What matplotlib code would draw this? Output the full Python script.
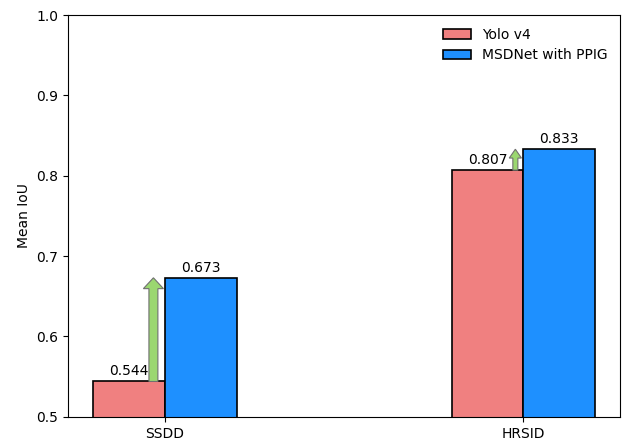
import matplotlib
matplotlib.use('Agg')
import matplotlib.pyplot as plt
import numpy as np

datasets = ['SSDD', 'HRSID']
yolo = [0.544, 0.807]
msdnet = [0.673, 0.833]
series_names = ['Yolo v4', 'MSDNet with PPIG']

fig = plt.figure(figsize=(6.25, 4.42), dpi=100)
ax = fig.add_axes([0.109, 0.057, 0.883, 0.909])

x = np.arange(len(datasets))
bar_width = 0.2

ax.bar(x - bar_width / 2, yolo, width=bar_width, color='#F08080',
       edgecolor='black', linewidth=1.2, label=series_names[0])
ax.bar(x + bar_width / 2, msdnet, width=bar_width, color='#1E90FF',
       edgecolor='black', linewidth=1.2, label=series_names[1])

# value labels
for xi, v in zip(x - bar_width / 2, yolo):
    ax.text(xi, v + 0.004, f'{v:.3f}', ha='center', va='bottom', fontsize=10)
for xi, v in zip(x + bar_width / 2, msdnet):
    ax.text(xi, v + 0.004, f'{v:.3f}', ha='center', va='bottom', fontsize=10)

# improvement arrows (the HRSID one is drawn smaller)
arrow_style = [(-0.032, 0.025, 0.056, 0.0135), (-0.022, 0.014, 0.034, 0.011)]
for xi, lo, hi, (dx, w, hw, hl) in zip(x, yolo, msdnet, arrow_style):
    ax.arrow(xi + dx, lo, 0, hi - lo, width=w, head_width=hw,
             head_length=hl, length_includes_head=True,
             facecolor='#9BD770', edgecolor='#707070', linewidth=0.8, zorder=3)

ax.set_ylim(0.5, 1.0)
ax.set_xticks(x)
ax.set_xticklabels(datasets)
ax.set_ylabel('Mean IoU')
ax.legend(loc='upper right', frameon=False)

plt.savefig('out.png', dpi=100)
